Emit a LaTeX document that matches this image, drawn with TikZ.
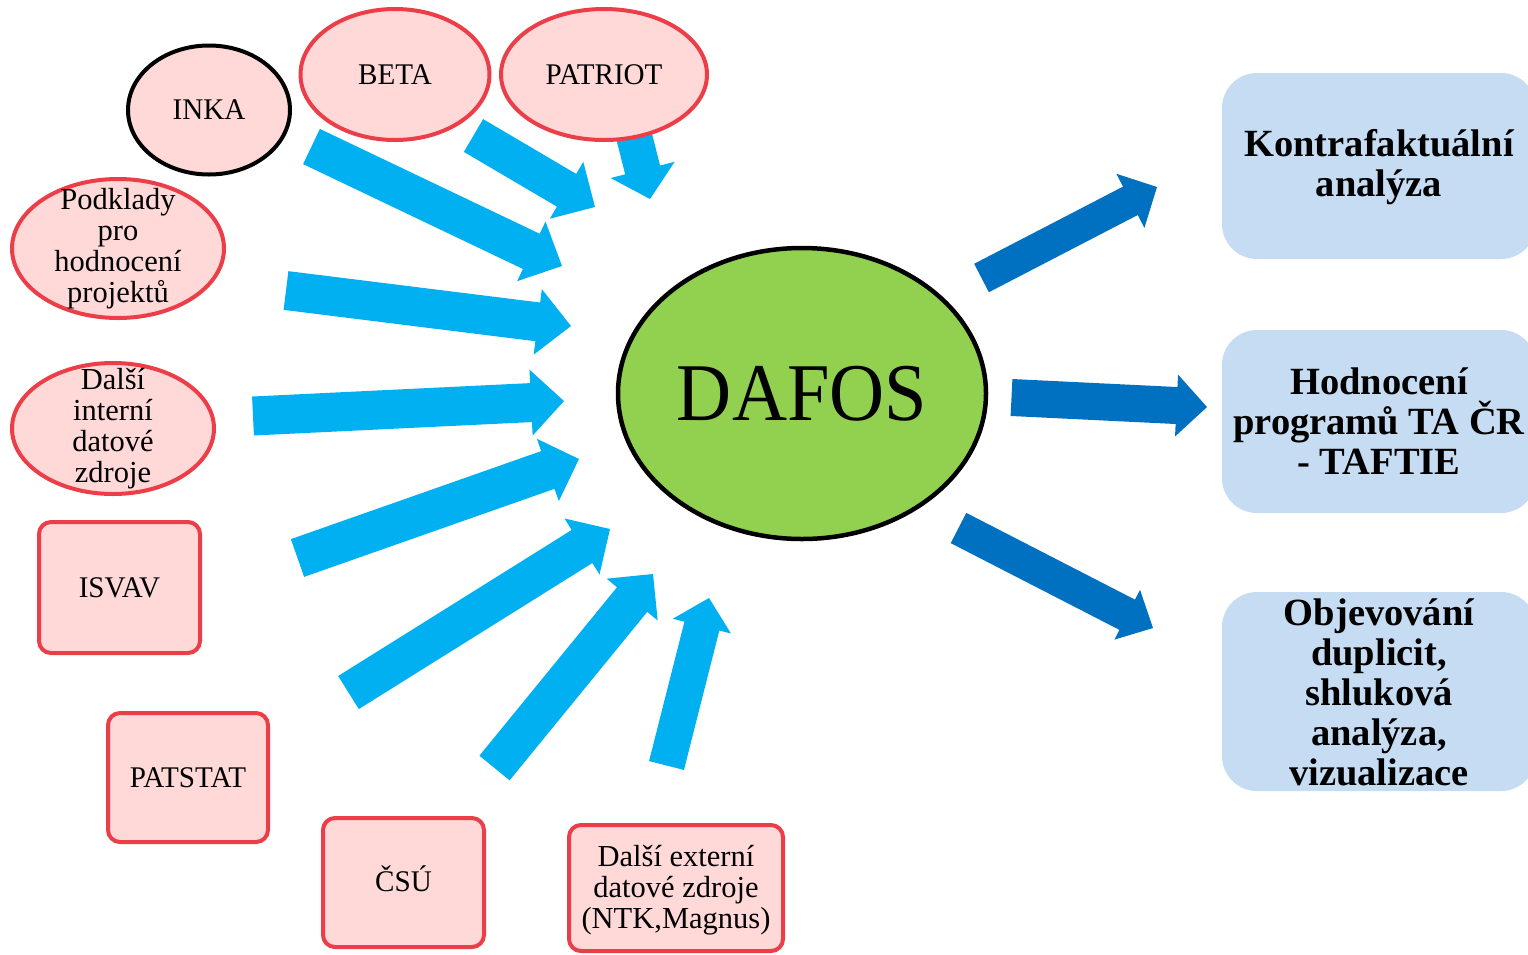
\documentclass[tikz,border=0pt]{standalone}
\usepackage{fontspec}
\setmainfont{Liberation Serif}
\newfontfamily\capsf{Liberation Serif}[FakeStretch=0.97]
\newfontfamily\dafosf{Liberation Serif}[FakeStretch=0.93]
\usetikzlibrary{calc,shapes.geometric}
\definecolor{pinkfill}{RGB}{255,216,216}
\definecolor{redline}{RGB}{236,62,72}
\definecolor{lightarrow}{RGB}{0,176,240}
\definecolor{darkarrow}{RGB}{0,112,192}
\definecolor{greenfill}{RGB}{146,208,80}
\definecolor{boxblue}{RGB}{198,220,242}
\newcommand\blockarr[6]{%
  \coordinate (bh) at ($(#2)!#5!(#1)$);
  \fill[#6] ($(#1)!#3!90:(#2)$) -- ($(bh)!#3!90:(#2)$) -- ($(bh)!#4!90:(#2)$) -- (#2)
    -- ($(bh)!#4!-90:(#2)$) -- ($(bh)!#3!-90:(#2)$) -- ($(#1)!#3!-90:(#2)$) -- cycle;}
\tikzset{
  srcell/.style={ellipse, draw=redline, line width=4pt, fill=pinkfill, inner sep=0pt},
  srcbox/.style={rectangle, rounded corners=12pt, draw=redline, line width=4pt, fill=pinkfill, inner sep=0pt},
  lbl/.style={font=\fontsize{30.5}{31}\selectfont, align=center, inner sep=0pt},
  caplbl/.style={font=\capsf\fontsize{30}{31}\selectfont, align=center},
  outbox/.style={rectangle, rounded corners=35pt, fill=boxblue, inner sep=0pt},
  outlbl/.style={font=\bfseries\fontsize{38.5}{40}\selectfont, align=center},
  inarrow/.style={fill=lightarrow},
  outarrow/.style={fill=darkarrow}
}
\begin{document}
\begin{tikzpicture}[x=1pt,y=-1pt]
\useasboundingbox (0,0) rectangle (1528,954);
% arrow coordinates
\coordinate (tA) at (311.5,146.5); \coordinate (pA) at (562,266);
\coordinate (tB) at (473.5,135.5); \coordinate (pB) at (595,207);
\coordinate (tC) at (632,128);     \coordinate (pC) at (650,199);
\coordinate (tD) at (286,290.5);   \coordinate (pD) at (571,326);
\coordinate (tE) at (253,416);     \coordinate (pE) at (564,401);
\coordinate (tF) at (297.5,558);   \coordinate (pF) at (579,459);
\coordinate (tG) at (348.5,692.5); \coordinate (pG) at (610,529);
\coordinate (tH) at (494.5,768);   \coordinate (pH) at (653,574);
\coordinate (tI) at (666.5,765.5); \coordinate (pI) at (709,598);
\coordinate (tJ) at (981.5,278);   \coordinate (pJ) at (1157,187);
\coordinate (tK) at (1011.5,397.5);\coordinate (pK) at (1207,407);
\coordinate (tL) at (958.5,528);   \coordinate (pL) at (1153,628);
\blockarr{tA}{pA}{19.5pt}{33pt}{34pt}{inarrow}
\blockarr{tB}{pB}{19pt}{33pt}{33pt}{inarrow}
\blockarr{tC}{pC}{18pt}{33pt}{30pt}{inarrow}
\blockarr{tD}{pD}{19.5pt}{33pt}{33.5pt}{inarrow}
\blockarr{tE}{pE}{19.5pt}{33pt}{33pt}{inarrow}
\blockarr{tF}{pF}{20pt}{33pt}{33pt}{inarrow}
\blockarr{tG}{pG}{19.5pt}{33pt}{33pt}{inarrow}
\blockarr{tH}{pH}{19.5pt}{33pt}{33pt}{inarrow}
\blockarr{tI}{pI}{18pt}{30pt}{29pt}{inarrow}
\blockarr{tJ}{pJ}{16pt}{30.5pt}{30pt}{outarrow}
\blockarr{tK}{pK}{18.5pt}{31pt}{30.5pt}{outarrow}
\blockarr{tL}{pL}{17pt}{28pt}{29pt}{outarrow}
% source nodes
\node[srcell, draw=black, minimum width=162pt, minimum height=129pt, caplbl] (inka) at (209,110) {INKA};
\node[srcell, minimum width=189pt, minimum height=131pt, caplbl] (beta) at (395,74.5) {BETA};
\node[srcell, minimum width=206pt, minimum height=131pt, caplbl] (patriot) at (604,74.5) {PATRIOT};
\node[srcell, minimum width=212pt, minimum height=139pt] (podklady) at (118,248.5) {};
\node[lbl] (podklady-t) at (118,249) {Podklady\\pro\\hodnocení\\projektů};
\node[srcell, minimum width=202pt, minimum height=131pt] (interni) at (113,428.5) {};
\node[lbl] (interni-t) at (113,429) {Další\\interní\\datové\\zdroje};
\node[srcbox, minimum width=161pt, minimum height=131pt, caplbl] (isvav) at (119.5,587.5) {ISVAV};
\node[srcbox, minimum width=160pt, minimum height=129pt, caplbl] (patstat) at (188,777.5) {PATSTAT};
\node[srcbox, minimum width=161pt, minimum height=129pt] (csu) at (403.5,882.5) {};
\node[caplbl] (csu-t) at (403.5,879) {ČSÚ};
\node[srcbox, minimum width=214pt, minimum height=126pt] (externi) at (676,888) {};
\node[lbl] (externi-t) at (676,890.5) {Další externí\\datové zdroje\\(NTK,Magnus)};
% center
\node[ellipse, draw=black, line width=4.5pt, fill=greenfill, minimum width=368pt, minimum height=291pt, inner sep=0pt,
      font=\dafosf\fontsize{82}{82}\selectfont] (dafos) at (802,393.5) {DAFOS};
% outputs
\node[outbox, minimum width=314pt, minimum height=186pt] (kontra) at (1379,166) {};
\node[outbox, minimum width=314pt, minimum height=183pt] (hodn) at (1379,421.5) {};
\node[outbox, minimum width=314pt, minimum height=199pt] (objev) at (1379,691.5) {};
\node[outlbl] (kontra-t) at (1379,167.5) {Kontrafaktuální\\analýza};
\node[outlbl] (hodn-t) at (1379,421.5) {Hodnocení\\programů TA ČR\\- TAFTIE};
\node[outlbl] (objev-t) at (1379,692) {Objevování\\duplicit,\\shluková\\analýza,\\vizualizace};
\end{tikzpicture}
\end{document}
